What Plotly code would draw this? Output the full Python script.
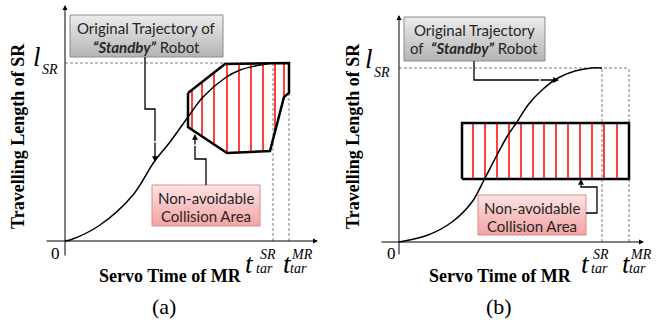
import plotly.graph_objects as go

# ---------------- data (arbitrary units, origin = 0) ----------------
# Panel (a)
a_curve_t = [0, 5, 35, 68, 89, 105, 123, 138, 160, 175, 190, 208]
a_curve_l = [0, 1, 16, 46, 79, 99, 124, 144, 163, 171, 175, 178]
a_l_sr = 178
a_t_sr = 208
a_t_mr = 224
a_poly_t = [123, 160, 224, 224, 219, 205, 162, 123]
a_poly_l = [148, 177, 178, 148, 144, 90, 88, 114]
a_hatch_t = [127, 137, 149, 162, 174, 186, 198, 210, 219]

# Panel (b)
b_curve_t = [0, 29, 53, 73, 86, 98, 109, 118, 129, 143, 159, 176, 193, 203]
b_curve_l = [0, 7, 20, 40, 64, 87, 107, 120, 137, 152, 164, 171, 174, 174]
b_l_sr = 174
b_t_sr = 203
b_t_mr = 230
b_rect_t = [63, 230]
b_rect_l = [63, 119]
b_hatch_t = [74, 86, 98, 110, 122, 134, 145, 157, 169, 181, 193, 205, 218]

W, H = 664, 324
SERIF = "Liberation Serif"
SANS = "Lato"

fig = go.Figure()


def poly_span(px, py, x):
    ys = []
    n = len(px)
    for i in range(n):
        x1, y1 = px[i], py[i]
        x2, y2 = px[(i + 1) % n], py[(i + 1) % n]
        if x1 == x2:
            continue
        if min(x1, x2) <= x <= max(x1, x2):
            ys.append(y1 + (y2 - y1) * (x - x1) / (x2 - x1))
    return min(ys), max(ys)


def line(xs, ys, ax, color="black", width=1.0, dash=None, shape="linear"):
    fig.add_trace(go.Scatter(x=xs, y=ys, mode="lines", xaxis=ax[0], yaxis=ax[1],
                             line=dict(color=color, width=width, dash=dash, shape=shape),
                             hoverinfo="skip", showlegend=False))


def arrow(ax, x0, y0, x1, y1, width=1.0, size=1.0):
    xr = "x" if ax[0] == "x" else "x2"
    yr = "y" if ax[1] == "y" else "y2"
    fig.add_annotation(x=x1, y=y1, ax=x0, ay=y0, xref=xr, yref=yr, axref=xr, ayref=yr,
                       showarrow=True, arrowhead=2, arrowsize=size, arrowwidth=width,
                       arrowcolor="black", text="")


def box(ax, t0, t1, l0, l1, c_bot, c_top, border):
    fig.add_trace(go.Scatter(x=[t0, t1, t1, t0, t0], y=[l0, l0, l1, l1, l0], mode="lines",
                             xaxis=ax[0], yaxis=ax[1], fill="toself",
                             fillgradient=dict(type="vertical", colorscale=[[0, c_bot], [1, c_top]]),
                             line=dict(color=border, width=1), hoverinfo="skip", showlegend=False))


def text(px, py, s, size, family, angle=0, color="black"):
    fig.add_annotation(x=px / W, y=1 - py / H, xref="paper", yref="paper", text=s,
                       showarrow=False, textangle=angle, xanchor="center", yanchor="middle",
                       font=dict(size=size, family=family, color=color))


A = ("x", "y")
B = ("x2", "y2")

# ---------------- panel (a) ----------------
line([0, a_t_mr], [a_l_sr, a_l_sr], A, color="#7f7f7f", width=1, dash="3px,2px")
line([a_t_sr, a_t_sr], [0, a_l_sr], A, color="#7f7f7f", width=1, dash="3px,2px")
line([a_t_mr, a_t_mr], [0, a_l_sr], A, color="#7f7f7f", width=1, dash="3px,2px")
for t in a_hatch_t:
    lo, hi = poly_span(a_poly_t, a_poly_l, t)
    line([t, t], [lo, hi], A, color="#ff0000", width=1.5)
line(a_poly_t + [a_poly_t[0]], a_poly_l + [a_poly_l[0]], A, width=2.5)
line(a_curve_t, a_curve_l, A, width=1.5, shape="spline")
arrow(A, 0, -16, 0, 236, width=1, size=1)
arrow(A, -20, 0, 253, 0, width=1, size=1)
box(A, 5, 158, 184, 226, "#b4b4b4", "#ececec", "#8c8c8c")
line([80, 80, 90, 90], [184, 132, 132, 100], A, width=1.3)
arrow(A, 90, 100, 90, 79, width=1.3, size=0.9)
box(A, 87, 195, 15, 56, "#f3a3a3", "#fde3e3", "#d98c8c")
line([141, 141, 130, 130], [56, 82, 82, 95], A, width=1.3)
arrow(A, 130, 95, 130, 107, width=1.3, size=0.9)

# ---------------- panel (b) ----------------
line([0, b_t_mr], [b_l_sr, b_l_sr], B, color="#7f7f7f", width=1, dash="3px,2px")
line([b_t_sr, b_t_sr], [0, b_l_sr], B, color="#7f7f7f", width=1, dash="3px,2px")
line([b_t_mr, b_t_mr], [0, b_l_sr], B, color="#7f7f7f", width=1, dash="3px,2px")
for t in b_hatch_t:
    line([t, t], [b_rect_l[0], b_rect_l[1]], B, color="#ff0000", width=1.5)
line([b_rect_t[0], b_rect_t[1], b_rect_t[1], b_rect_t[0], b_rect_t[0]],
     [b_rect_l[0], b_rect_l[0], b_rect_l[1], b_rect_l[1], b_rect_l[0]], B, width=2.5)
line(b_curve_t, b_curve_l, B, width=1.5, shape="spline")
arrow(B, 0, -14, 0, 227, width=1, size=1)
arrow(B, -19, 0, 245, 0, width=1, size=1)
box(B, 5, 146, 181, 225, "#b4b4b4", "#ececec", "#8c8c8c")
line([75, 75, 140], [181, 162, 162], B, width=1.3)
arrow(B, 140, 162, 160, 162, width=1.3, size=0.9)
box(B, 79, 187, 7, 47, "#f3a3a3", "#fde3e3", "#d98c8c")
line([187, 198, 198, 182, 182], [29, 29, 55, 55, 57], B, width=1.3)
arrow(B, 182, 57, 182, 63, width=1.3, size=0.9)

# ---------------- text ----------------
TXT = "#262626"
text(146, 28, "Original Trajectory of", 15, SANS, color=TXT)
text(146, 47, "<b><i>“Standby”</i></b> Robot", 15, SANS, color=TXT)
text(206, 198, "Non-avoidable", 15, SANS, color=TXT)
text(206, 216, "Collision Area", 15, SANS, color=TXT)
text(474, 30, "Original Trajectory", 15, SANS, color=TXT)
text(474, 48, "of &nbsp;<b><i>“Standby”</i></b> Robot", 15, SANS, color=TXT)
text(532, 208, "Non-avoidable", 15, SANS, color=TXT)
text(532, 226, "Collision Area", 15, SANS, color=TXT)

for cx, cy in [(18, 136), (353, 136)]:
    text(cx, cy, "<b>Travelling Length of SR</b>", 18, SERIF, angle=-90)
for cx, cy in [(170, 276), (500, 276)]:
    text(cx, cy, "<b>Servo Time of MR</b>", 18, SERIF)
text(164, 306, "(a)", 22, SERIF)
text(499, 306, "(b)", 22, SERIF)
text(56, 253, "0", 17, SERIF)
text(391, 253, "0", 17, SERIF)

for lx, ly, sx, sy in [(37, 57, 50, 69), (369, 59, 382, 72)]:
    text(lx, ly, "<i>l</i>", 27, SERIF)
    text(sx, sy, "<i>SR</i>", 14, SERIF)

for tx, ty, sup, sx, subx in [(249, 264, "SR", 268, 264), (287, 264, "MR", 302, 298),
                              (585, 264, "SR", 601, 599), (626, 264, "MR", 641, 637)]:
    text(tx, ty, "<i>t</i>", 27, SERIF)
    text(sx, 254, "<i>" + sup + "</i>", 14, SERIF)
    text(subx, 268, "<i>tar</i>", 14, SERIF)

fig.update_layout(
    width=W, height=H, margin=dict(l=0, r=0, t=0, b=0),
    paper_bgcolor="white", plot_bgcolor="white", showlegend=False,
    xaxis=dict(domain=[0, 0.5], range=[-65, 267], visible=False, fixedrange=True),
    yaxis=dict(domain=[0, 1], range=[-83, 241], visible=False, fixedrange=True),
    xaxis2=dict(domain=[0.5, 1], range=[-67, 265], visible=False, fixedrange=True),
    yaxis2=dict(domain=[0, 1], range=[-82, 242], visible=False, fixedrange=True, anchor="x2"),
)
fig.write_html("out.html")
